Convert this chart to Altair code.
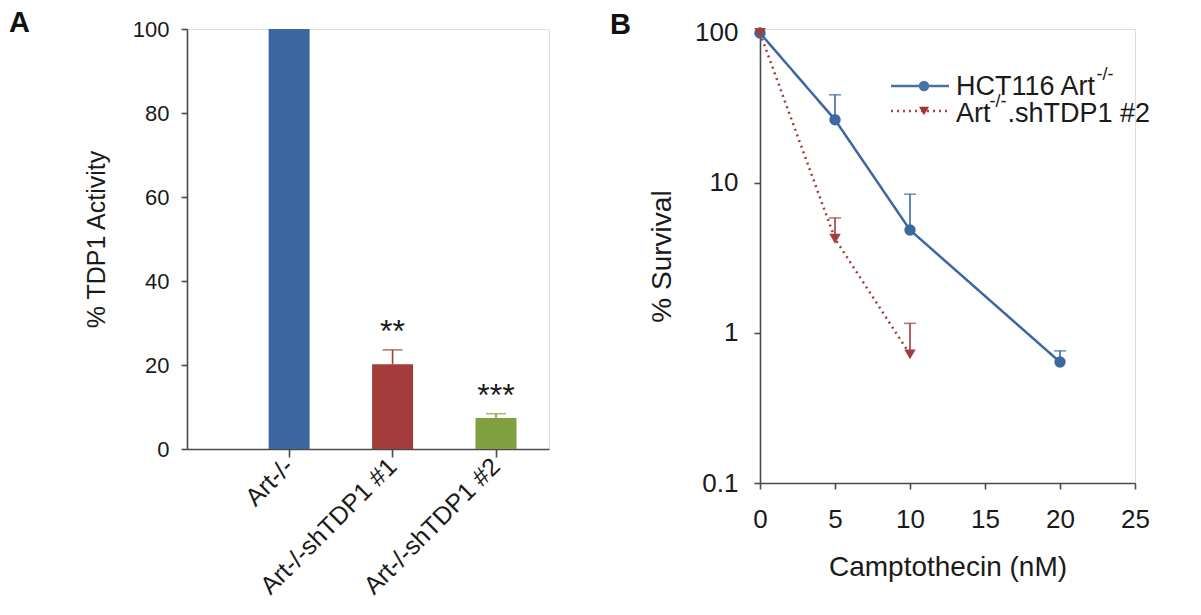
import altair as alt
import pandas as pd

FONT = "Liberation Sans"

# ---------------- Panel A data ----------------
groups = ["Art-/-", "Art-/-shTDP1 #1", "Art-/-shTDP1 #2"]
activity = [100.0, 20.2, 7.4]
activity_err = [0.0, 3.4, 1.0]
stars = ["", "**", "***"]
bar_colors = ["#3d67a1", "#a33d3b", "#7f9f40"]

# ---------------- Panel B data ----------------
series_names = ["HCT116 Art-/-", "Art-/-.shTDP1 #2"]
series_colors = ["#4a70a8", "#b0403f"]
doses_art = [0, 5, 10, 20]
survival_art = [100.0, 26.4, 4.86, 0.64]
survival_art_err = [0.0, 12.3, 3.56, 0.12]
doses_sh = [0, 5, 10]
survival_sh = [100.0, 4.25, 0.72]
survival_sh_err = [0.0, 1.6, 0.44]

# ---------------- tables ----------------
dfA = pd.DataFrame({"group": groups, "activity": activity, "err": activity_err, "star": stars})
dfA["top"] = dfA["activity"] + dfA["err"]

dfB = pd.concat([
    pd.DataFrame({"series": series_names[0], "dose": doses_art, "surv": survival_art, "err": survival_art_err}),
    pd.DataFrame({"series": series_names[1], "dose": doses_sh, "surv": survival_sh, "err": survival_sh_err}),
], ignore_index=True)
dfB["top"] = dfB["surv"] + dfB["err"]

one = pd.DataFrame({"k": [0]})

AXC = "#4a4a4a"
TXT = "#1a1a1a"

# ---------------- Panel A ----------------
xA = alt.X("group:N", sort=groups, title=None,
           scale=alt.Scale(paddingInner=0.6, paddingOuter=0.55, align=0.716),
           axis=alt.Axis(labelAngle=-45, labelAlign="right", labelBaseline="middle",
                         labelFontSize=25, labelColor=TXT, labelFont=FONT, tickSize=8,
                         labelPadding=5, labelLimit=400, domainColor=AXC, tickColor=AXC,
                         domainWidth=1.6, tickWidth=1.6))
yA = alt.Y("activity:Q", scale=alt.Scale(domain=[0, 100]),
           axis=alt.Axis(values=[0, 20, 40, 60, 80, 100], title="% TDP1 Activity",
                         titleFontSize=25, titleFontWeight="normal", titleColor=TXT, titleFont=FONT,
                         labelFontSize=22, labelColor=TXT, labelFont=FONT, tickSize=6,
                         labelPadding=12, titlePadding=23, grid=False, labelFlush=False,
                         domainColor=AXC, tickColor=AXC, domainWidth=1.6, tickWidth=1.6))
colA = alt.Color("group:N", scale=alt.Scale(domain=groups, range=bar_colors), legend=None)

baseA = alt.Chart(dfA)
bars = baseA.mark_bar(size=41).encode(x=xA, y=yA, color=colA)
errA = baseA.transform_filter("datum.err > 0").mark_rule(strokeWidth=1.6).encode(
    x=alt.X("group:N", sort=groups), y="activity:Q", y2="top:Q", color=colA)
capA = baseA.transform_filter("datum.err > 0").mark_tick(orient="horizontal", size=20, thickness=1.6).encode(
    x=alt.X("group:N", sort=groups), y="top:Q", color=colA)
starA = baseA.transform_filter("datum.star != ''").mark_text(
    fontSize=32, baseline="alphabetic", dy=-8, font=FONT, color=TXT).encode(
    x=alt.X("group:N", sort=groups), y="top:Q", text="star:N")
labelA = alt.Chart(one).mark_text(text="A", fontSize=29, fontWeight="bold", font=FONT,
                                  align="left", baseline="top", color="#111").encode(
    x=alt.value(-178), y=alt.value(-20))

panelA = alt.layer(bars, errA, capA, starA, labelA).properties(width=362, height=420)

# ---------------- Panel B ----------------
xB = alt.X("dose:Q", scale=alt.Scale(domain=[0, 25], nice=False),
           axis=alt.Axis(values=[0, 5, 10, 15, 20, 25], title="Camptothecin (nM)",
                         titleFontSize=28, titleFontWeight="normal", titleColor=TXT, titleFont=FONT,
                         labelFontSize=26, labelColor=TXT, labelFont=FONT, tickSize=6,
                         labelPadding=17, titlePadding=21, grid=False, labelFlush=False,
                         domainColor=AXC, tickColor=AXC, domainWidth=1.6, tickWidth=1.6))
yB = alt.Y("surv:Q", scale=alt.Scale(type="log", domain=[0.1, 106.3], nice=False),
           axis=alt.Axis(values=[0.1, 1, 10, 100], format="~g", title="% Survival",
                         titleFontSize=28, titleFontWeight="normal", titleColor=TXT, titleFont=FONT,
                         labelFontSize=26, labelColor=TXT, labelFont=FONT, tickSize=6,
                         labelPadding=16, titlePadding=18, grid=False, labelFlush=False,
                         domainColor=AXC, tickColor=AXC, domainWidth=1.6, tickWidth=1.6))
colB = alt.Color("series:N", scale=alt.Scale(domain=series_names, range=series_colors), legend=None)
dashB = alt.StrokeDash("series:N", scale=alt.Scale(domain=series_names, range=[[1, 0], [2, 4]]), legend=None)
shapeB = alt.Shape("series:N", scale=alt.Scale(domain=series_names, range=["circle", "triangle-down"]), legend=None)

baseB = alt.Chart(dfB)
linesB = baseB.mark_line(strokeWidth=2.5).encode(x=xB, y=yB, color=colB, strokeDash=dashB)
errB = baseB.transform_filter("datum.err > 0").mark_rule(strokeWidth=1.6).encode(
    x="dose:Q", y="surv:Q", y2="top:Q", color=colB)
capB = baseB.transform_filter("datum.err > 0").mark_tick(orient="horizontal", size=12, thickness=1.6).encode(
    x="dose:Q", y="top:Q", color=colB)
ptsB = baseB.mark_point(filled=True, opacity=1, size=130).encode(
    x="dose:Q", y="surv:Q", color=colB, shape=shapeB)

# manual legend (pixel layout)
LX = 196          # legend text start (px from plot left)
LFS = 27          # legend font size
SFS = 18          # superscript font size
W_HCT = 5.279 * LFS   # width of "HCT116 Art"
W_ART = 1.278 * LFS   # width of "Art"
W_SUP = 0.944 * SFS   # width of "-/-"

lg1 = alt.Chart(one).mark_rule(strokeWidth=2.5, color=series_colors[0]).encode(
    x=alt.value(131), x2=alt.value(189), y=alt.value(57))
lg1p = alt.Chart(one).mark_point(filled=True, opacity=1, size=110, shape="circle", color=series_colors[0]).encode(
    x=alt.value(164), y=alt.value(57))
lg2 = alt.Chart(one).mark_rule(strokeWidth=2.5, color=series_colors[1], strokeDash=[2, 4]).encode(
    x=alt.value(131), x2=alt.value(189), y=alt.value(82))
lg2p = alt.Chart(one).mark_point(filled=True, opacity=1, size=100, shape="triangle-down", color="#a8302f").encode(
    x=alt.value(164), y=alt.value(82))


def txt(s, x, y, fs):
    return alt.Chart(one).mark_text(text=s, fontSize=fs, font=FONT, align="left",
                                    baseline="alphabetic", color=TXT).encode(
        x=alt.value(x), y=alt.value(y))


t1 = txt("HCT116 Art", LX, 66, LFS)
t1s = txt("-/-", LX + W_HCT - 2, 51, SFS)
t2 = txt("Art", LX, 93, LFS)
t2s = txt("-/-", LX + W_ART - 1, 78, SFS)
t2b = txt(".shTDP1 #2", LX + W_ART + W_SUP, 93, LFS)

labelB = alt.Chart(one).mark_text(text="B", fontSize=29, fontWeight="bold", font=FONT,
                                  align="left", baseline="top", color="#111").encode(
    x=alt.value(-150), y=alt.value(-18))

panelB = alt.layer(linesB, errB, capB, ptsB, lg1, lg1p, lg2, lg2p, t1, t1s, t2, t2s, t2b, labelB).properties(
    width=375, height=454)

chart = alt.hconcat(panelA, panelB, spacing=211, bounds="flush").properties(
    padding={"left": 0, "top": 0, "right": 0, "bottom": 0}
).configure_view(stroke=None).configure(font=FONT, background="white")

chart.save("out.html", embed_options={"renderer": "svg", "actions": False})
